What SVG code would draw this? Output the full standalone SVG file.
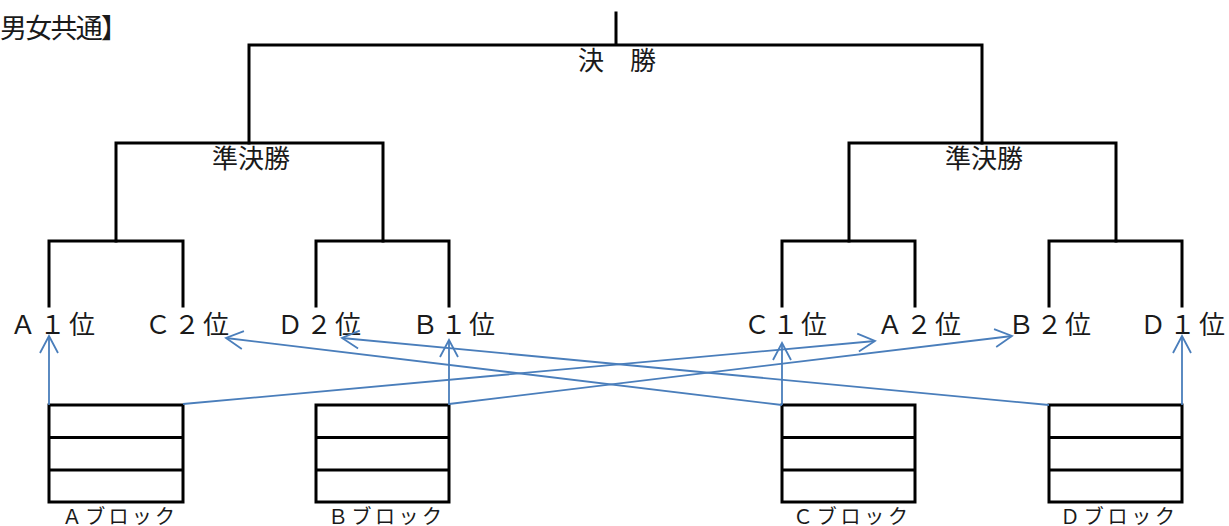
<svg xmlns="http://www.w3.org/2000/svg" width="1229" height="526" viewBox="0 0 1229 526">
<style>
  .br{fill:none;stroke:#000;stroke-width:3;stroke-linecap:square}
  .blk{fill:#fff;stroke:#000;stroke-width:3}
  .row{stroke:#000;stroke-width:3}
  .t{font-family:"Liberation Serif","Noto Sans CJK JP",serif;fill:#1a1a1a}
  .lbl{font-size:26px}
  .pos{font-size:26px}
  .bl{font-size:20px}
  .ar{fill:none;stroke:#4a7ebb;stroke-width:1.8;marker-end:url(#ah)}
</style>
<defs>
  <marker id="ah" markerUnits="userSpaceOnUse" markerWidth="24" markerHeight="24" viewBox="-20 -12 24 24" refX="0" refY="0" orient="auto">
    <path d="M-17,-9 L0,0 L-17,9" fill="none" stroke="#4a7ebb" stroke-width="1.8"/>
  </marker>
</defs>
<rect width="1229" height="526" fill="#fff"/>
<g id="title"><text class="t" x="0" y="38" font-size="27" textLength="128">男女共通】</text></g>
<g id="bracket">
  <path class="br" d="M616,13 V45 M249,143 V45 H982 V143"/>
  <path class="br" d="M116,241 V143 H383 V241 M849,241 V143 H1116 V241"/>
  <path class="br" d="M49,306 V241 H183 V306 M316,306 V241 H449 V306"/>
  <path class="br" d="M782,306 V241 H915 V306 M1049,306 V241 H1182 V306"/>
</g>
<g id="final"><text class="t lbl" x="578" y="70" textLength="78">決　勝</text></g>
<g id="semi-left"><text class="t lbl" x="212" y="168" textLength="78">準決勝</text></g>
<g id="semi-right"><text class="t lbl" x="945" y="168" textLength="78">準決勝</text></g>
<g id="positions">
  <g id="pos-a1"><text class="t pos" x="10" y="334" textLength="85">Ａ１位</text></g>
  <g id="pos-c2"><text class="t pos" x="145" y="334" textLength="84">Ｃ２位</text></g>
  <g id="pos-d2"><text class="t pos" x="277" y="334" textLength="84">Ｄ２位</text></g>
  <g id="pos-b1"><text class="t pos" x="412" y="334" textLength="83">Ｂ１位</text></g>
  <g id="pos-c1"><text class="t pos" x="744" y="334" textLength="83">Ｃ１位</text></g>
  <g id="pos-a2"><text class="t pos" x="877" y="334" textLength="84">Ａ２位</text></g>
  <g id="pos-b2"><text class="t pos" x="1008" y="334" textLength="83">Ｂ２位</text></g>
  <g id="pos-d1"><text class="t pos" x="1140" y="334" textLength="85">Ｄ１位</text></g>
</g>
<g id="block-a">
  <rect class="blk" x="49" y="405" width="134" height="97"/>
  <path class="row" d="M49,437.5 H183 M49,470 H183"/>
  <text class="t bl" x="62" y="524" textLength="113">Ａブロック</text>
</g>
<g id="block-b">
  <rect class="blk" x="316" y="405" width="133" height="97"/>
  <path class="row" d="M316,437.5 H449 M316,470 H449"/>
  <text class="t bl" x="328" y="524" textLength="114">Ｂブロック</text>
</g>
<g id="block-c">
  <rect class="blk" x="782" y="405" width="133" height="97"/>
  <path class="row" d="M782,437.5 H915 M782,470 H915"/>
  <text class="t bl" x="793" y="524" textLength="115">Ｃブロック</text>
</g>
<g id="block-d">
  <rect class="blk" x="1049" y="405" width="133" height="97"/>
  <path class="row" d="M1049,437.5 H1182 M1049,470 H1182"/>
  <text class="t bl" x="1060" y="524" textLength="115">Ｄブロック</text>
</g>
<g id="connectors">
  <line class="ar" x1="49" y1="405" x2="49" y2="336"/>
  <line class="ar" x1="449" y1="405" x2="449" y2="340"/>
  <line class="ar" x1="782" y1="405" x2="782" y2="343"/>
  <line class="ar" x1="1182" y1="405" x2="1182" y2="336"/>
  <line class="ar" x1="183" y1="404" x2="875" y2="341"/>
  <line class="ar" x1="449" y1="404" x2="1012" y2="336"/>
  <line class="ar" x1="782" y1="405" x2="226" y2="338"/>
  <line class="ar" x1="1049" y1="405" x2="342" y2="338"/>
</g>
</svg>
